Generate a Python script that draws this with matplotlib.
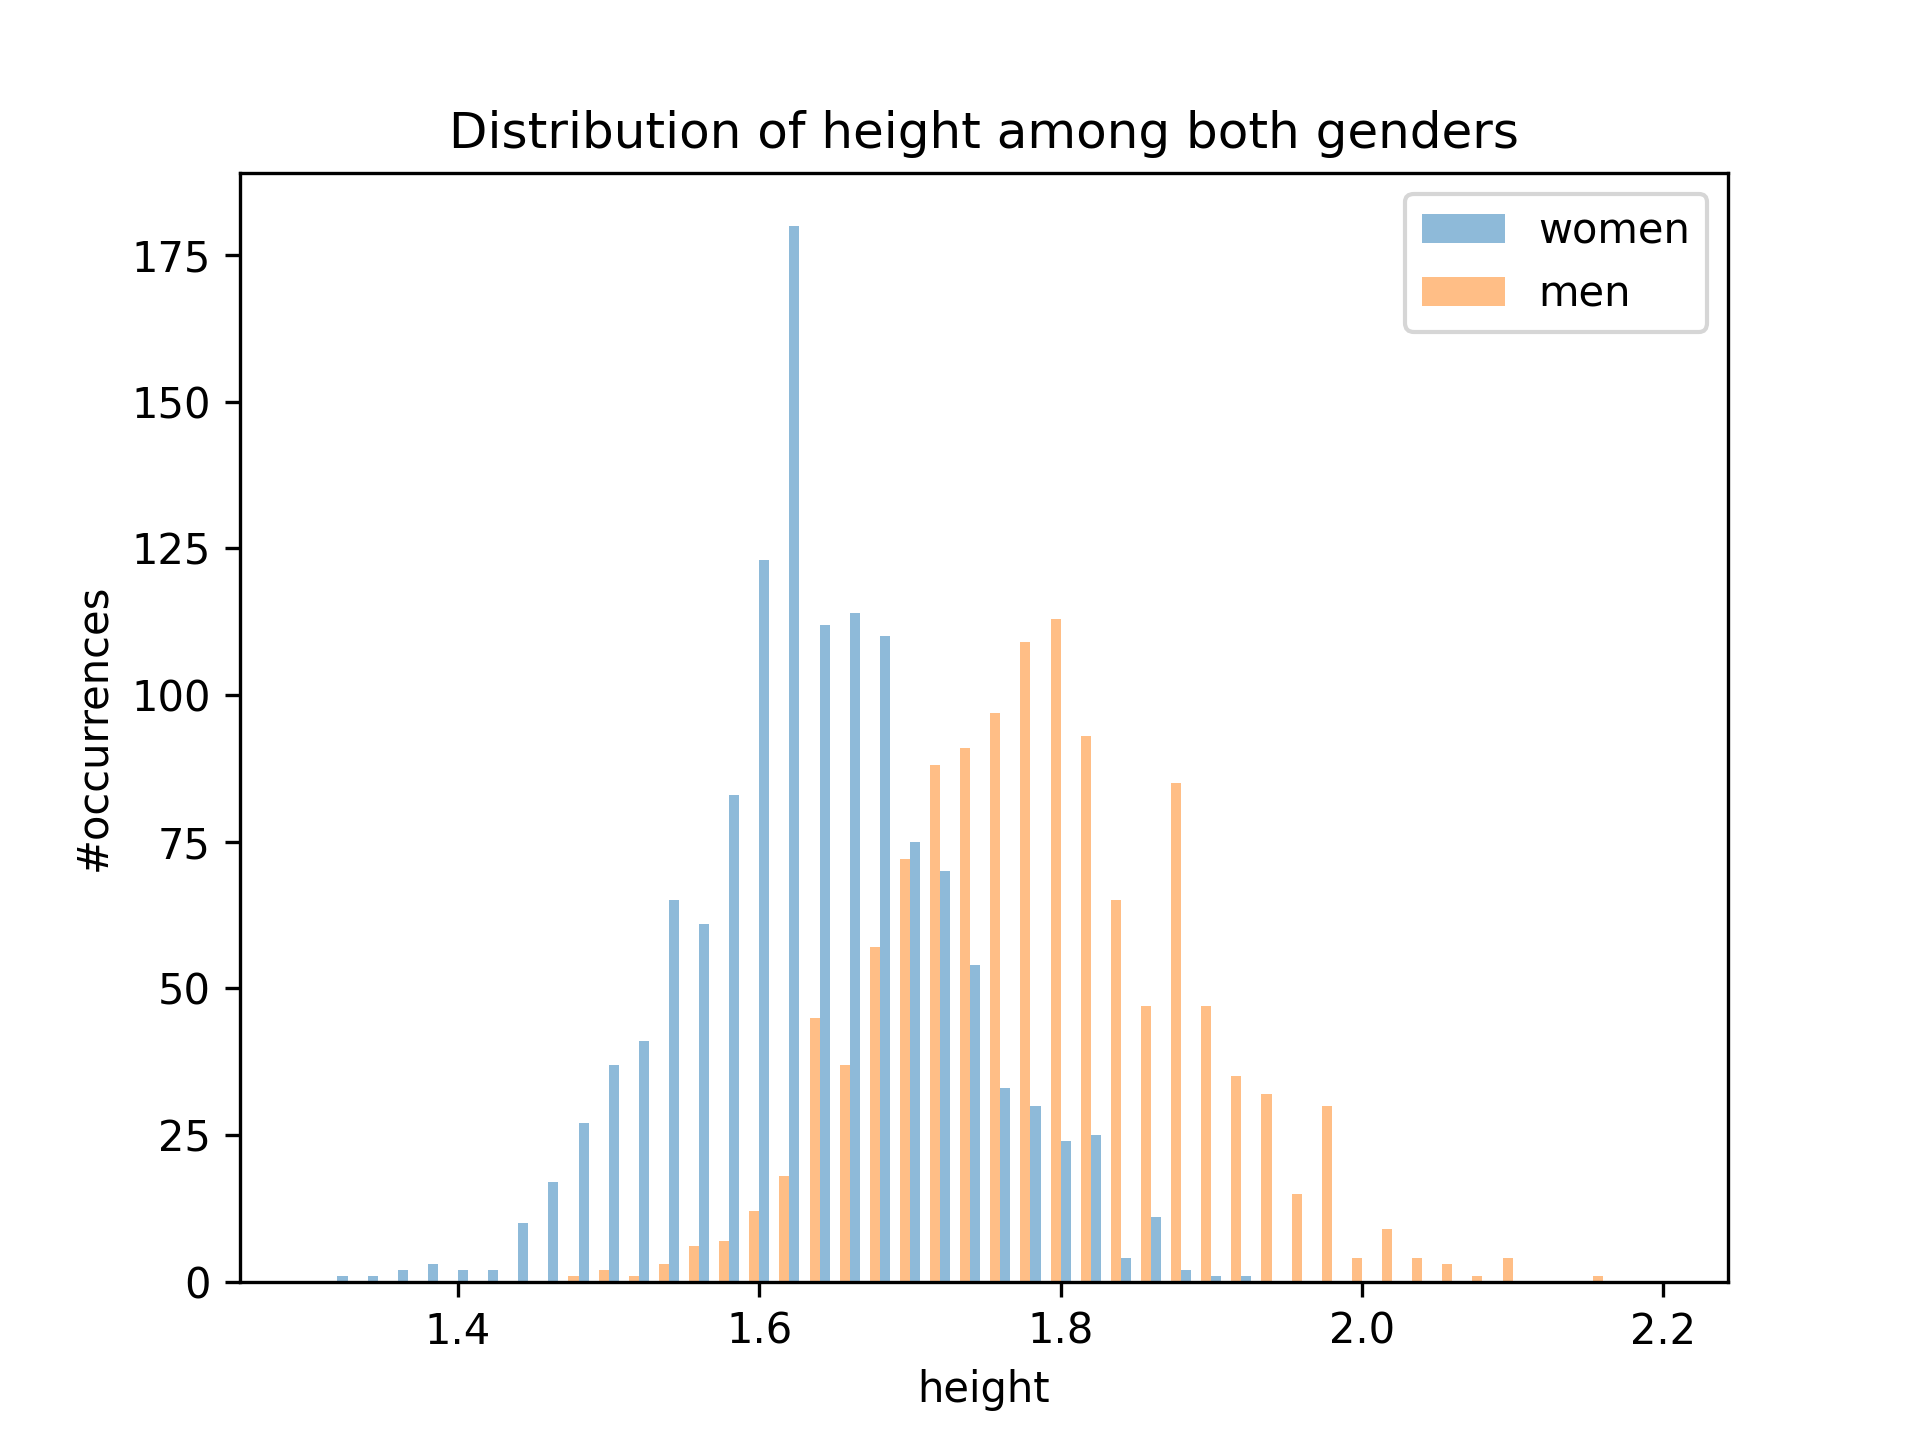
import numpy as np
import matplotlib
matplotlib.use("Agg")
import matplotlib.pyplot as plt

# bins of 0.02 starting at 1.31
bin_edges = np.round(np.arange(1.31, 2.2101, 0.02), 3)
women_counts = [1, 1, 2, 3, 2, 2, 10, 17, 27, 37, 41, 65, 61, 83, 123, 180, 112, 114,
                110, 75, 70, 54, 33, 30, 24, 25, 4, 11, 2, 1, 1]
men_start = 8
men_counts = [1, 2, 1, 3, 6, 7, 12, 18, 45, 37, 57, 72, 88, 91, 97, 109, 113, 93, 65,
              47, 85, 47, 35, 32, 15, 30, 4, 9, 4, 3, 1, 4, 0, 0, 1]

nb = len(bin_edges) - 1
centers = (bin_edges[:-1] + bin_edges[1:]) / 2
w = np.zeros(nb)
w[:len(women_counts)] = women_counts
m = np.zeros(nb)
m[men_start:men_start + len(men_counts)] = men_counts

fig, ax = plt.subplots(figsize=(6.4, 4.8))
_, _, patches = ax.hist([centers, centers], bins=bin_edges, weights=[m, w],
                        rwidth=2 / 3, alpha=0.5, color=["tab:orange", "tab:blue"],
                        label=["men", "women"])
h, l = ax.get_legend_handles_labels()
ax.legend(h[::-1], l[::-1])
ax.set_xlim(1.2553, 2.243)
ax.set_title("Distribution of height among both genders")
ax.set_xlabel("height")
ax.set_ylabel("#occurrences")
plt.savefig("out.png", dpi=300)
